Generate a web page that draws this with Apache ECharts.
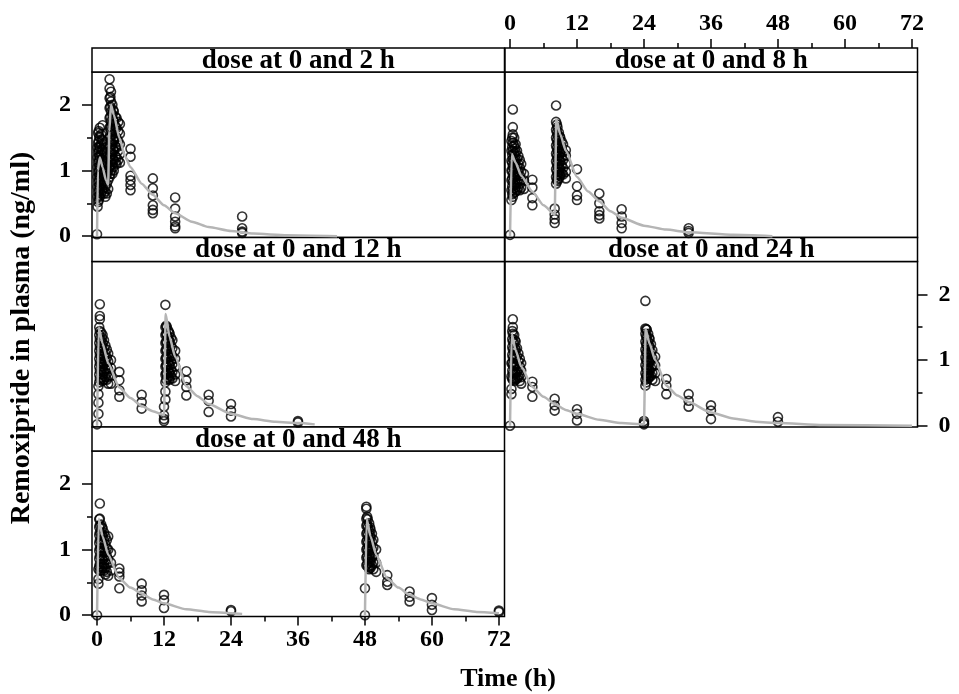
<!DOCTYPE html>
<html>
<head>
<meta charset="utf-8">
<script src="https://cdn.jsdelivr.net/npm/echarts@6/dist/echarts.min.js"></script>
<style>
html, body { margin: 0; padding: 0; background: #fff; }
#main { width: 959px; height: 694px; }
</style>
</head>
<body>
<div id="main"></div>
<script>
// panel titles and axis ticks
var doseLabels = ['dose at 0 and 2 h', 'dose at 0 and 8 h', 'dose at 0 and 12 h', 'dose at 0 and 24 h', 'dose at 0 and 48 h'];
var timeTicks = [0, 12, 24, 36, 48, 60, 72];
var timeMinor = [6, 18, 30, 42, 54, 66];
var concTicks = [0, 1, 2];
var concMinor = [0.5, 1.5];

// observed concentrations: [time, value, value, ...]
var obs2h = [
    [0, 0.03], [0.1, 0.45, 0.6, 0.75, 0.9, 1.05, 1.2, 1.35], [0.3, 0.55, 0.7, 0.85, 1.0, 1.15, 1.3, 1.45, 1.6],
    [0.5, 0.6, 0.75, 0.9, 1.05, 1.2, 1.35, 1.5, 1.65], [0.75, 0.65, 0.8, 0.95, 1.1, 1.25, 1.4, 1.55],
    [1, 0.7, 0.85, 1.0, 1.15, 1.3, 1.45, 1.69], [1.25, 0.65, 0.8, 0.95, 1.1, 1.25, 1.4],
    [1.5, 0.6, 0.75, 0.9, 1.05, 1.2, 1.35], [1.75, 0.65, 0.8, 0.95, 1.1], [2, 0.72, 0.85, 1.0],
    [2.25, 2.39, 2.25, 2.1, 1.95, 1.8, 1.65, 1.5, 1.35, 1.2, 1.05, 0.9],
    [2.5, 2.2, 2.05, 1.9, 1.75, 1.6, 1.45, 1.3, 1.15, 1.0], [2.75, 2.0, 1.85, 1.7, 1.55, 1.4, 1.25, 1.1, 0.95],
    [3, 1.9, 1.75, 1.6, 1.45, 1.3, 1.15, 1.0], [3.5, 1.8, 1.65, 1.5, 1.35, 1.2, 1.1],
    [4.1, 1.71, 1.56, 1.4, 1.25, 1.12], [6, 1.33, 1.21, 0.92, 0.85, 0.78, 0.7],
    [10, 0.88, 0.73, 0.62, 0.47, 0.4, 0.35], [14, 0.59, 0.42, 0.3, 0.22, 0.15, 0.12], [26, 0.3, 0.12, 0.07, 0.05],
    [0.2, 0.52, 0.67, 0.82, 0.97, 1.12, 1.27, 1.42, 1.57], [0.4, 0.62, 0.77, 0.92, 1.07, 1.22, 1.37, 1.52],
    [0.9, 0.72, 0.87, 1.02, 1.17, 1.32, 1.47], [1.4, 0.68, 0.83, 0.98, 1.13, 1.28],
    [2.4, 2.12, 1.97, 1.82, 1.67, 1.52, 1.37, 1.22, 1.07, 0.95], [2.9, 1.92, 1.77, 1.62, 1.47, 1.32, 1.17, 1.05],
    [3.3, 1.82, 1.67, 1.52, 1.37, 1.22, 1.12], [3.8, 1.74, 1.6, 1.45, 1.3, 1.16]
];
var obs8h = [
    [0, 0.02], [0.25, 0.55, 0.7, 0.85, 1.0, 1.15, 1.3, 1.45],
    [0.5, 1.93, 1.66, 1.55, 1.42, 1.3, 1.18, 1.06, 0.94, 0.82, 0.7, 0.6],
    [0.75, 1.5, 1.38, 1.26, 1.14, 1.02, 0.9, 0.78, 0.66], [1, 1.4, 1.28, 1.16, 1.04, 0.92, 0.8, 0.68],
    [1.25, 1.3, 1.18, 1.06, 0.94, 0.82, 0.7], [1.5, 1.22, 1.1, 0.98, 0.86, 0.74], [2, 1.1, 0.98, 0.86, 0.74],
    [2.5, 0.95, 0.85, 0.72], [4, 0.86, 0.74, 0.58, 0.47], [8, 0.42, 0.33, 0.26, 0.2],
    [8.25, 1.99, 1.74, 1.62, 1.5, 1.38, 1.26, 1.14, 1.02, 0.9, 0.8], [8.5, 1.66, 1.54, 1.42, 1.3, 1.18, 1.06, 0.94, 0.84],
    [8.75, 1.58, 1.46, 1.34, 1.22, 1.1, 0.98, 0.88], [9, 1.5, 1.38, 1.26, 1.14, 1.02, 0.92],
    [9.5, 1.4, 1.28, 1.16, 1.04, 0.94], [10, 1.31, 1.23, 1.1, 0.98, 0.88], [12, 1.02, 0.76, 0.62, 0.55],
    [16, 0.65, 0.5, 0.38, 0.32, 0.27], [20, 0.41, 0.3, 0.2, 0.12], [32, 0.12, 0.08, 0.05],
    [0.4, 1.5, 1.36, 1.24, 1.12, 1.0, 0.88, 0.76, 0.64], [0.9, 1.34, 1.22, 1.1, 0.98, 0.86, 0.74],
    [1.75, 1.16, 1.04, 0.92, 0.8, 0.7], [8.4, 1.7, 1.58, 1.46, 1.34, 1.22, 1.1, 0.98, 0.86],
    [8.9, 1.52, 1.4, 1.28, 1.16, 1.04, 0.94], [9.25, 1.44, 1.32, 1.2, 1.08, 0.96]
];
var obs12h = [
    [0, 0.02], [0.25, 0.6, 0.48, 0.35, 0.18], [0.5, 1.85, 1.67, 1.62, 1.44, 1.32, 1.2, 1.08, 0.96, 0.84, 0.72],
    [0.75, 1.42, 1.3, 1.18, 1.06, 0.94, 0.82, 0.7], [1, 1.38, 1.26, 1.14, 1.02, 0.9, 0.78, 0.68],
    [1.25, 1.3, 1.18, 1.06, 0.94, 0.82, 0.7], [1.5, 1.22, 1.1, 0.98, 0.86, 0.74], [2, 1.1, 0.98, 0.86, 0.74, 0.64],
    [2.5, 1.0, 0.88, 0.76, 0.64], [4, 0.82, 0.69, 0.54, 0.44], [8, 0.47, 0.36, 0.26],
    [12, 0.29, 0.16, 0.1, 0.07], [12.25, 1.84, 1.5, 1.38, 1.26, 1.14, 1.02, 0.9, 0.78, 0.66, 0.52, 0.4],
    [12.5, 1.5, 1.38, 1.26, 1.14, 1.02, 0.9, 0.78], [12.75, 1.45, 1.33, 1.21, 1.09, 0.97, 0.85, 0.74],
    [13, 1.4, 1.28, 1.16, 1.04, 0.92, 0.8, 0.7], [13.5, 1.3, 1.18, 1.06, 0.94, 0.82, 0.72],
    [14, 1.14, 1.02, 0.9, 0.78, 0.68], [16, 0.83, 0.69, 0.59, 0.46], [20, 0.47, 0.38, 0.21],
    [24, 0.33, 0.23, 0.14], [36, 0.07, 0.05],
    [0.4, 1.5, 1.38, 1.26, 1.14, 1.02, 0.9, 0.78, 0.66], [0.9, 1.34, 1.22, 1.1, 0.98, 0.86, 0.74],
    [1.75, 1.16, 1.04, 0.92, 0.8, 0.7], [12.4, 1.52, 1.4, 1.28, 1.16, 1.04, 0.92, 0.8, 0.7],
    [12.9, 1.42, 1.3, 1.18, 1.06, 0.94, 0.82, 0.72], [13.25, 1.34, 1.22, 1.1, 0.98, 0.86, 0.76]
];
var obs24h = [
    [0, 0.0], [0.25, 0.56, 0.48, 0.75, 0.95], [0.5, 1.62, 1.5, 1.4, 1.28, 1.16, 1.04, 0.92, 0.8, 0.7],
    [0.75, 1.38, 1.26, 1.14, 1.02, 0.9, 0.78, 0.68], [1, 1.28, 1.16, 1.04, 0.92, 0.8, 0.7],
    [1.25, 1.18, 1.06, 0.94, 0.82, 0.72], [1.5, 1.1, 0.98, 0.86, 0.74], [2, 0.95, 0.84, 0.74, 0.64],
    [4, 0.67, 0.59, 0.44], [8, 0.41, 0.31, 0.23], [12, 0.25, 0.18, 0.08], [24, 0.07, 0.02, 0.04],
    [24.25, 1.9, 1.48, 1.4, 1.28, 1.16, 1.04, 0.92, 0.8, 0.7, 0.61], [24.5, 1.46, 1.34, 1.22, 1.1, 0.98, 0.86, 0.76],
    [24.75, 1.4, 1.28, 1.16, 1.04, 0.92, 0.8, 0.72], [25, 1.32, 1.2, 1.08, 0.96, 0.84, 0.74],
    [25.5, 1.15, 1.03, 0.91, 0.8, 0.7], [26, 1.05, 0.92, 0.8, 0.68], [28, 0.71, 0.61, 0.48],
    [32, 0.48, 0.38, 0.29], [36, 0.31, 0.23, 0.1], [48, 0.13, 0.06],
    [0.4, 1.44, 1.32, 1.2, 1.08, 0.96, 0.84, 0.72], [0.9, 1.3, 1.18, 1.06, 0.94, 0.82, 0.72],
    [1.75, 1.02, 0.9, 0.78, 0.68], [24.4, 1.47, 1.36, 1.24, 1.12, 1.0, 0.88, 0.76, 0.66],
    [24.9, 1.34, 1.22, 1.1, 0.98, 0.86, 0.76], [25.25, 1.24, 1.12, 1.0, 0.88, 0.76]
];
var obs48h = [
    [0, 0.0], [0.25, 0.48, 0.55, 0.7], [0.5, 1.7, 1.47, 1.37, 1.26, 1.14, 1.02, 0.9, 0.78, 0.68],
    [0.75, 1.38, 1.26, 1.14, 1.02, 0.9, 0.78, 0.68], [1, 1.32, 1.2, 1.08, 0.96, 0.84, 0.72],
    [1.25, 1.26, 1.14, 1.02, 0.9, 0.78, 0.68], [1.5, 1.2, 1.08, 0.96, 0.84, 0.72, 0.62],
    [2, 1.2, 1.0, 0.85, 0.6], [2.5, 0.95, 0.8, 0.68], [4, 0.71, 0.65, 0.59, 0.41], [8, 0.48, 0.38, 0.3, 0.21],
    [12, 0.31, 0.23, 0.11], [24, 0.08, 0.06], [48, 0.0, 0.41],
    [48.25, 1.65, 1.62, 1.47, 1.36, 1.24, 1.12, 1.0, 0.88, 0.76], [48.5, 1.46, 1.34, 1.22, 1.1, 0.98, 0.86, 0.74],
    [48.75, 1.4, 1.28, 1.16, 1.04, 0.92, 0.8, 0.7], [49, 1.3, 1.18, 1.06, 0.94, 0.82, 0.72],
    [49.5, 1.15, 1.03, 0.91, 0.8, 0.7], [50, 1.0, 0.8, 0.66], [52, 0.61, 0.51, 0.46],
    [56, 0.36, 0.28, 0.21], [60, 0.26, 0.16, 0.08], [72, 0.07, 0.05],
    [0.4, 1.46, 1.34, 1.22, 1.1, 0.98, 0.86, 0.74], [0.9, 1.34, 1.22, 1.1, 0.98, 0.86, 0.74],
    [1.75, 1.14, 1.02, 0.9, 0.78, 0.66], [48.4, 1.5, 1.38, 1.26, 1.14, 1.02, 0.9, 0.78],
    [48.9, 1.34, 1.22, 1.1, 0.98, 0.86, 0.74], [49.25, 1.24, 1.12, 1.0, 0.88, 0.76]
];

// predicted (typical) profile per design
var pred2h = [[0, 0], [0.15, 1.0], [0.5, 1.2], [1, 1.05], [1.6, 0.85], [2, 0.78], [2.2, 1.6], [2.5, 2.0], [3, 1.85], [4, 1.5], [5, 1.22], [6, 1.05], [8, 0.8], [10, 0.63], [12, 0.47], [14, 0.35], [17, 0.22], [20, 0.14], [24, 0.08], [28, 0.04], [34, 0.015], [43, 0]];
var pred8h = [[0, 0], [0.3, 1.25], [1, 1.12], [2, 0.92], [4, 0.68], [6, 0.47], [8, 0.33], [8.3, 1.78], [9, 1.55], [10, 1.3], [12, 0.9], [14, 0.68], [16, 0.53], [18, 0.38], [20, 0.28], [24, 0.16], [28, 0.1], [32, 0.06], [40, 0.02], [47, 0]];
var pred12h = [[0, 0], [0.3, 1.5], [1, 1.25], [2, 0.95], [4, 0.58], [6, 0.42], [8, 0.3], [10, 0.22], [12, 0.16], [12.3, 1.7], [13, 1.35], [14, 1.05], [16, 0.6], [18, 0.45], [20, 0.33], [24, 0.18], [28, 0.1], [32, 0.06], [36, 0.04], [39, 0.02]];
var pred24h = [[0, 0], [0.3, 1.4], [1, 1.15], [2, 0.9], [4, 0.59], [6, 0.44], [8, 0.33], [10, 0.24], [12, 0.18], [16, 0.09], [20, 0.04], [24, 0.02], [24.3, 1.47], [25, 1.25], [26, 1.0], [28, 0.61], [30, 0.46], [32, 0.36], [36, 0.2], [40, 0.11], [44, 0.06], [48, 0.04], [56, 0.01], [72, 0]];
var pred48h = [[0, 0], [0.3, 1.47], [1, 1.2], [2, 0.92], [4, 0.56], [6, 0.42], [8, 0.33], [10, 0.24], [12, 0.18], [16, 0.09], [20, 0.05], [24, 0.03], [26, 0.02], [30, '-'], [48, 0], [48.3, 1.47], [49, 1.2], [50, 0.92], [52, 0.56], [54, 0.42], [56, 0.31], [58, 0.24], [60, 0.18], [64, 0.09], [68, 0.05], [72, 0.03]];

var panelObs = [obs2h, obs8h, obs12h, obs24h, obs48h];
var panelPred = [pred2h, pred8h, pred12h, pred24h, pred48h];

// layout (lattice style, 3 rows x 2 cols)
var colLeft = [92, 505], panelW = 412.5;
var stripTop = [48, 237.5, 427], stripH = 24, plotH = 165.5;
var cells = [[0, 0], [0, 1], [1, 0], [1, 1], [2, 0]];
var FONT = 'Liberation Serif';

function flatten(groups) {
    var out = [];
    groups.forEach(function (g) {
        for (var k = 1; k < g.length; k++) out.push([g[0], g[k]]);
    });
    return out;
}

var labelStyle = {fontFamily: FONT, fontWeight: 'bold', fontSize: 24, color: '#000'};
var tickLine = {color: '#000', width: 1.5};

var grids = [], xAxes = [], yAxes = [], series = [], graphics = [];

function xAxisOf(g, show, pos, off, ticks, len, labels, margin) {
    return {
        gridIndex: g, type: 'value', min: -0.9, max: 73, show: show, position: pos, offset: off,
        axisLine: {show: false, onZero: false}, splitLine: {show: false},
        axisTick: {show: true, customValues: ticks, length: len, lineStyle: tickLine},
        axisLabel: labels ? Object.assign({customValues: labels, margin: margin}, labelStyle) : {show: false}
    };
}
function yAxisOf(g, show, pos, ticks, len, labels) {
    return {
        gridIndex: g, type: 'value', min: -0.02, max: 2.5, show: show, position: pos,
        axisLine: {show: false, onZero: false}, splitLine: {show: false},
        axisTick: {show: true, customValues: ticks, length: len, lineStyle: tickLine},
        axisLabel: labels ? Object.assign({customValues: labels, margin: 21}, labelStyle) : {show: false}
    };
}

cells.forEach(function (c, i) {
    var row = c[0], col = c[1];
    var left = colLeft[col], top = stripTop[row];
    var box = {left: left, top: top + stripH, width: panelW, height: plotH};
    // data grid (index 2i) and a twin grid for the minor ticks (index 2i+1)
    grids.push(Object.assign({show: true, borderColor: '#000', borderWidth: 1.5, backgroundColor: 'transparent'}, box));
    grids.push(Object.assign({show: false}, box));

    var xShow = (i === 1 || i === 4);
    var xPos = i === 1 ? 'top' : 'bottom';
    var xOff = i === 1 ? stripH : 0;
    var xMargin = i === 1 ? 12 : 11;
    var yShow = (i === 0 || i === 3 || i === 4);
    var yPos = i === 3 ? 'right' : 'left';

    xAxes.push(xAxisOf(2 * i, xShow, xPos, xOff, timeTicks, 9, timeTicks, xMargin));
    xAxes.push(xAxisOf(2 * i + 1, xShow, xPos, xOff, timeMinor, 5, null, 0));
    yAxes.push(yAxisOf(2 * i, yShow, yPos, concTicks, 10, concTicks));
    yAxes.push(yAxisOf(2 * i + 1, yShow, yPos, concMinor, 5, null));

    series.push({
        type: 'scatter', xAxisIndex: 2 * i, yAxisIndex: 2 * i,
        data: flatten(panelObs[i]), symbol: 'circle', symbolSize: 9, z: 2,
        itemStyle: {color: 'rgba(0,0,0,0)', borderColor: '#000', borderWidth: 1.6},
        emphasis: {disabled: true}
    });
    series.push({
        type: 'line', xAxisIndex: 2 * i, yAxisIndex: 2 * i,
        data: panelPred[i], showSymbol: false, smooth: 0.2, smoothMonotone: 'x', z: 3,
        lineStyle: {color: '#b5b5b5', width: 2.5},
        emphasis: {disabled: true}
    });

    // strip header
    graphics.push({
        type: 'rect', shape: {x: left, y: top, width: panelW, height: stripH},
        style: {fill: '#fff', stroke: '#000', lineWidth: 1.5}
    });
    graphics.push({
        type: 'text', x: left + panelW / 2, y: top + 13,
        style: {
            text: doseLabels[i], font: 'bold 27px "Liberation Serif"', fill: '#000',
            textAlign: 'center', textVerticalAlign: 'middle', align: 'center', verticalAlign: 'middle'
        }
    });
});

graphics.push({
    type: 'text', x: 22, y: 338, rotation: Math.PI / 2,
    style: {
        text: 'Remoxipride in plasma (ng/ml)', font: 'bold 28px "Liberation Serif"', fill: '#000',
        textAlign: 'center', textVerticalAlign: 'middle', align: 'center', verticalAlign: 'middle'
    }
});
graphics.push({
    type: 'text', x: 508, y: 679,
    style: {
        text: 'Time (h)', font: 'bold 26px "Liberation Serif"', fill: '#000',
        textAlign: 'center', textVerticalAlign: 'middle', align: 'center', verticalAlign: 'middle'
    }
});

var mChart = echarts.init(document.getElementById('main'));
mChart.setOption({
    animation: false,
    backgroundColor: '#fff',
    grid: grids,
    xAxis: xAxes,
    yAxis: yAxes,
    series: series,
    graphic: graphics
});
</script>
</body>
</html>
